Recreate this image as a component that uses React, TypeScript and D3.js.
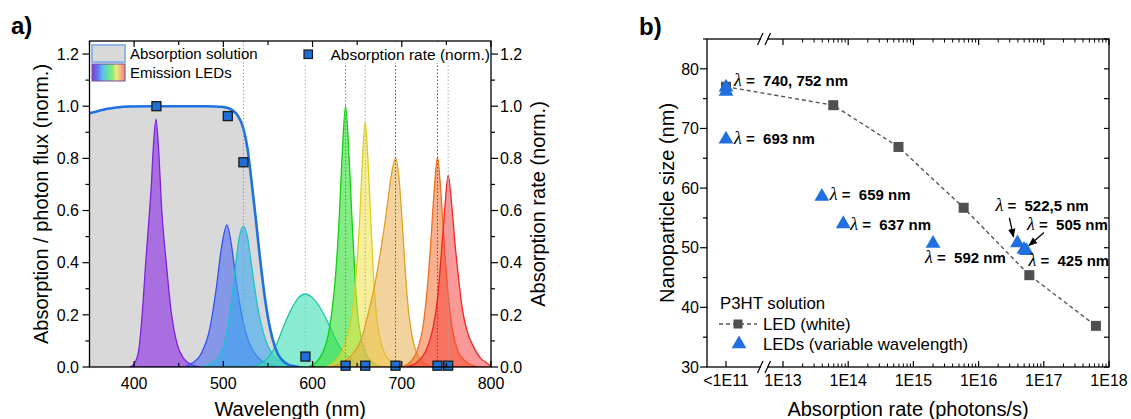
import React from 'react';
import * as d3 from 'd3';

const FONT = "'Liberation Sans', Arial, Helvetica, sans-serif";

// ---------- Panel a data ----------
const absWavelength = [350, 360, 370, 380, 395, 420, 480, 500, 510, 516, 522, 527, 531, 536, 541, 546, 550, 555, 561, 568, 575, 585];
const absValue = [0.973, 0.982, 0.99, 0.995, 0.999, 1.0, 1.0, 0.997, 0.985, 0.965, 0.92, 0.84, 0.73, 0.58, 0.42, 0.28, 0.19, 0.11, 0.05, 0.02, 0.006, 0];

const led425: [number, number][] = [[395, 0], [400, 0.012], [405, 0.06], [409, 0.2], [413, 0.4], [416.5, 0.56], [419, 0.68], [421.5, 0.84], [424.5, 0.95], [427.5, 0.83], [431, 0.6], [436, 0.4], [442, 0.2], [448, 0.09], [455, 0.035], [465, 0.008], [475, 0]];
const led505: [number, number][] = [[455, 0], [465, 0.015], [475, 0.05], [485, 0.15], [492, 0.3], [498, 0.46], [504, 0.545], [509, 0.47], [514, 0.34], [520, 0.21], [528, 0.1], [538, 0.04], [550, 0.012], [568, 0]];
const led522: [number, number][] = [[475, 0], [490, 0.02], [500, 0.075], [507, 0.2], [513, 0.37], [518, 0.5], [522.5, 0.54], [527, 0.5], [532, 0.38], [538, 0.24], [545, 0.13], [555, 0.05], [570, 0.012], [590, 0]];
const led592: [number, number][] = [[530, 0], [540, 0.01], [550, 0.035], [560, 0.09], [568, 0.16], [576, 0.22], [584, 0.265], [592, 0.28], [600, 0.265], [608, 0.23], [616, 0.18], [624, 0.12], [632, 0.07], [640, 0.04], [650, 0.015], [665, 0]];
const led637: [number, number][] = [[595, 0], [605, 0.02], [612, 0.06], [618, 0.13], [622, 0.22], [626, 0.36], [630, 0.58], [633, 0.8], [637, 1.0], [641, 0.8], [644, 0.58], [647, 0.38], [650, 0.22], [654, 0.12], [660, 0.05], [668, 0.015], [680, 0]];
const led659: [number, number][] = [[615, 0], [625, 0.02], [633, 0.06], [640, 0.13], [645, 0.22], [649, 0.36], [653, 0.58], [656, 0.8], [659, 0.94], [662, 0.8], [665, 0.58], [668, 0.37], [671, 0.22], [675, 0.12], [681, 0.05], [690, 0.015], [700, 0]];
const led693: [number, number][] = [[620, 0], [635, 0.02], [645, 0.05], [655, 0.11], [662, 0.2], [670, 0.32], [677, 0.46], [683, 0.6], [688, 0.73], [693, 0.8], [697, 0.72], [700, 0.58], [703, 0.42], [706, 0.27], [710, 0.15], [716, 0.06], [725, 0.015], [735, 0]];
const led740: [number, number][] = [[700, 0], [710, 0.02], [718, 0.07], [724, 0.16], [728, 0.28], [732, 0.45], [736, 0.66], [740, 0.805], [744, 0.66], [748, 0.45], [752, 0.28], [757, 0.14], [763, 0.06], [772, 0.02], [785, 0]];
const led752: [number, number][] = [[705, 0], [718, 0.02], [728, 0.07], [735, 0.15], [740, 0.26], [744, 0.42], [748, 0.6], [752, 0.735], [756, 0.62], [760, 0.46], [764, 0.33], [768, 0.22], [773, 0.14], [780, 0.08], [788, 0.035], [798, 0.008], [800, 0]];
const ledSpectra = [led425, led505, led522, led592, led637, led659, led693, led740, led752];

const rateWavelength = [425, 505, 522.5, 592, 637, 659, 693, 740, 752];
const rateValue = [1.0, 0.962, 0.785, 0.04, 0.005, 0.005, 0.005, 0.005, 0.005];
const guideWavelength = [522.5, 592, 637, 659, 693, 740, 752];

const xTicksA = [400, 500, 600, 700, 800];
const yTicksA = [0, 0.2, 0.4, 0.6, 0.8, 1.0, 1.2];

// ---------- Panel b data ----------
const whiteRate = [1e11, 5.9e13, 5.9e14, 5.9e15, 6e16, 6.3e17];
const whiteSize = [77.0, 73.9, 66.9, 56.7, 45.4, 36.9];

const ledLabels = ['740', '752', '693', '659', '637', '592', '522,5', '505', '425'];
const ledRate = [1e11, 1e11, 1e11, 3.94e13, 8.4e13, 2.0e15, 3.94e16, 4.97e16, 5.42e16];
const ledSize = [76.9, 76.2, 68.2, 58.6, 54.0, 50.7, 50.8, 49.7, 49.5];

const xTickValuesB = [1e11, 1e13, 1e14, 1e15, 1e16, 1e17, 1e18];
const xTickLabelsB = ['<1E11', '1E13', '1E14', '1E15', '1E16', '1E17', '1E18'];
const yTicksB = [30, 40, 50, 60, 70, 80];

// ---------- styles ----------
const ledStroke = ['#7A22E0', '#3352F0', '#1EC3C8', '#22C2AE', '#12CF12', '#DCCD1E', '#E0A024', '#F07022', '#F02626'];
const ledFill = ['#8A2BE2', '#4F6BF2', '#3AA6F0', '#3ADFB0', '#32E032', '#F0E244', '#EAAE4C', '#F27030', '#F83434'];
const ledOpacity = [0.62, 0.6, 0.6, 0.6, 0.6, 0.55, 0.55, 0.55, 0.5];
const guideColor = ['#9a9a9a', '#b5b5b5', '#7a7a7a', '#aaaaaa', '#555555', '#555555', '#aaaaaa'];

// label layout for panel b: [dx, dy] relative to marker
const labelOffset: ([number, number] | null)[] = [[8, -1], null, [8, 5], [8, 4], [7, 6], [-8, 19], [-22, -32], [3, -20], [2, 15]];
const labelText = ['740, 752', '', '693', '659', '637', '592', '522,5', '505', '425'];

// ---------- scales ----------
const xA = d3.scaleLinear().domain([350, 800]).range([89.5, 491]);
const yA = d3.scaleLinear().domain([0, 1.25]).range([367, 41]);

const yB = d3.scaleLinear().domain([30, 85]).range([367, 39]);
const xBHigh = d3.scaleLog().domain([1e13, 1e18]).range([783, 1109]);
const xBLow = d3.scaleLog().domain([1e10, 1e12]).range([707, 745]);
const xB = (v: number) => (v < 1e12 ? xBLow(v) : xBHigh(v));

export default function App() {
  const area = d3.area<[number, number]>().x(d => xA(d[0])).y0(yA(0)).y1(d => yA(d[1])).curve(d3.curveMonotoneX);
  const line = d3.line<[number, number]>().x(d => xA(d[0])).y(d => yA(d[1])).curve(d3.curveMonotoneX);
  const absPts: [number, number][] = absWavelength.map((w, i) => [w, absValue[i]]);

  const aL = 89.5, aR = 491, aT = 41, aB = 367;
  const bL = 707, bR = 1109, bT = 39, bB = 367;

  const minorXA = d3.range(350, 801, 50);
  const minorYA = d3.range(0, 13).map(i => i / 10);
  const minorXB: number[] = [];
  for (let d = 13; d < 18; d++) for (let m = 2; m <= 9; m++) minorXB.push(m * Math.pow(10, d));
  const majorXBHigh = [1e13, 1e14, 1e15, 1e16, 1e17, 1e18];
  const minorYB = d3.range(30, 86, 5);

  const tri = d3.symbol().type(d3.symbolTriangle).size(95)();
  const whiteLine = d3.line<number>().x((d, i) => xB(whiteRate[i])).y(d => yB(d));

  const breakX = 764;

  return (
    <svg width={1131} height={419} style={{ position: 'absolute', left: 0, top: 0, fontFamily: FONT }}>
      <defs>
        <linearGradient id="rainbow" x1="0" x2="1" y1="0" y2="0">
          <stop offset="0" stopColor="#7B3FD8" />
          <stop offset="0.16" stopColor="#6A70F0" />
          <stop offset="0.32" stopColor="#5EBCEE" />
          <stop offset="0.48" stopColor="#62E0A6" />
          <stop offset="0.62" stopColor="#8CEA72" />
          <stop offset="0.74" stopColor="#F0E888" />
          <stop offset="0.88" stopColor="#F2B47A" />
          <stop offset="1" stopColor="#F08282" />
        </linearGradient>
        <marker id="arrow" viewBox="0 0 10 10" refX="9" refY="5" markerWidth="7" markerHeight="7" orient="auto-start-reverse">
          <path d="M0,1 L10,5 L0,9 z" fill="#000" />
        </marker>
        <clipPath id="clipA"><rect x={aL} y={aT} width={aR - aL} height={aB - aT} /></clipPath>
      </defs>
      <rect x={0} y={0} width={1131} height={419} fill="#fff" />

      {/* ================= Panel a ================= */}
      <text x={11} y={34} fontSize={24} fontWeight="bold">a)</text>
      <g clipPath="url(#clipA)">
        <path d={area(absPts) || ''} fill="#D9D9D9" />
        {ledSpectra.map((s, i) => (
          <path key={i} d={area(s) || ''} fill={ledFill[i]} fillOpacity={ledOpacity[i]} stroke={ledStroke[i]} strokeWidth={1.3} />
        ))}
        <path d={line(absPts) || ''} fill="none" stroke="#1E72E0" strokeWidth={2.6} />
        {guideWavelength.map((w, i) => (
          <line key={i} x1={xA(w)} x2={xA(w)} y1={aT} y2={aB} stroke={guideColor[i]} strokeWidth={1} strokeDasharray="1.5,2" />
        ))}
      </g>
      {/* right legend (white box hides guide lines) */}
      <rect x={298} y={42} width={191} height={21} fill="#fff" />
      <rect x={304} y={50} width={8.5} height={8.5} fill="#1F6FD6" stroke="#1a1a1a" strokeWidth={1.2} />
      <text x={330.5} y={59.5} fontSize={15.5}>Absorption rate (norm.)</text>
      {/* left legend */}
      <rect x={92} y={45} width={33} height={17} fill="#D9D9D9" stroke="#8DB8EC" strokeWidth={2} />
      <rect x={92} y={64} width={33} height={17} fill="url(#rainbow)" stroke="#7a4a9a" strokeWidth={1} />
      <text x={130} y={58.5} fontSize={15}>Absorption solution</text>
      <text x={130} y={77.5} fontSize={15}>Emission LEDs</text>

      {/* absorption rate squares */}
      {rateWavelength.map((w, i) => (
        <rect key={i} x={xA(w) - 4.5} y={yA(rateValue[i]) - 4.5} width={9} height={9} fill="#1F6FD6" stroke="#1a1a1a" strokeWidth={1.3} />
      ))}

      {/* frame */}
      <rect x={aL} y={aT} width={aR - aL} height={aB - aT} fill="none" stroke="#000" strokeWidth={1.3} />
      {/* bottom/top ticks */}
      {minorXA.map(v => {
        const major = v % 100 === 0;
        const len = major ? 6 : 4;
        return (
          <g key={v}>
            <line x1={xA(v)} x2={xA(v)} y1={aB} y2={aB - len} stroke="#000" strokeWidth={1.2} />
            <line x1={xA(v)} x2={xA(v)} y1={aT} y2={aT + len} stroke="#000" strokeWidth={1.2} />
          </g>
        );
      })}
      {xTicksA.map(v => (
        <text key={v} x={xA(v)} y={389} fontSize={16} textAnchor="middle">{v}</text>
      ))}
      {/* left/right ticks */}
      {minorYA.map(v => {
        const major = Math.round(v * 10) % 2 === 0;
        const len = major ? 7 : 4;
        return (
          <g key={v}>
            <line x1={aL} x2={aL - len} y1={yA(v)} y2={yA(v)} stroke="#000" strokeWidth={1.2} />
            <line x1={aR} x2={aR + len} y1={yA(v)} y2={yA(v)} stroke="#000" strokeWidth={1.2} />
          </g>
        );
      })}
      {yTicksA.map(v => (
        <g key={v}>
          <text x={79} y={yA(v)} dy="0.36em" fontSize={16} textAnchor="end">{v.toFixed(1)}</text>
          <text x={500} y={yA(v)} dy="0.36em" fontSize={16} textAnchor="start">{v.toFixed(1)}</text>
        </g>
      ))}
      <text x={(aL + aR) / 2} y={416} fontSize={20} textAnchor="middle">Wavelength (nm)</text>
      <text transform={`translate(48,${(aT + aB) / 2}) rotate(-90)`} fontSize={20} textAnchor="middle">Absorption / photon flux (norm.)</text>
      <text transform={`translate(545,${(aT + aB) / 2}) rotate(-90)`} fontSize={20} textAnchor="middle">Absorption rate (norm.)</text>

      {/* ================= Panel b ================= */}
      <text x={639} y={35} fontSize={24} fontWeight="bold">b)</text>

      <path d={whiteLine(whiteSize) || ''} fill="none" stroke="#555" strokeWidth={1.4} strokeDasharray="4,3" />
      {whiteRate.map((r, i) => (
        <rect key={i} x={xB(r) - 5} y={yB(whiteSize[i]) - 5} width={10} height={10} fill="#4F4F4F" />
      ))}
      {ledRate.map((r, i) => (
        <path key={i} d={tri || ''} transform={`translate(${xB(r)},${yB(ledSize[i])})`} fill="#1F6FE0" />
      ))}
      {ledRate.map((r, i) => {
        const off = labelOffset[i];
        if (!off) return null;
        return (
          <text key={i} x={xB(r) + off[0]} y={yB(ledSize[i]) + off[1]} fontSize={15} fontWeight="bold" xmlSpace="preserve">
            <tspan fontFamily="'Liberation Serif', 'DejaVu Serif', serif" fontStyle="italic" fontWeight="normal" fontSize={18}>λ</tspan>
            {'\u00A0=\u00A0\u00A0' + labelText[i] + ' nm'}
          </text>
        );
      })}
      {/* arrows for 522,5 and 505 */}
      <line x1={xB(ledRate[6]) - 8} y1={yB(ledSize[6]) - 25} x2={xB(ledRate[6]) - 4} y2={yB(ledSize[6]) - 6} stroke="#000" strokeWidth={1.3} markerEnd="url(#arrow)" />
      <line x1={xB(ledRate[7]) + 20} y1={yB(ledSize[7]) - 17} x2={xB(ledRate[7]) + 5} y2={yB(ledSize[7]) - 4} stroke="#000" strokeWidth={1.3} markerEnd="url(#arrow)" />

      {/* legend b */}
      <text x={720} y={308.5} fontSize={16.8}>P3HT solution</text>
      <line x1={719} x2={757} y1={324} y2={324} stroke="#555" strokeWidth={1.4} strokeDasharray="4,3" />
      <rect x={733.5} y={319.5} width={9} height={9} fill="#4F4F4F" />
      <text x={763} y={329.5} fontSize={16.8}>LED (white)</text>
      <path d={tri || ''} transform="translate(739,344)" fill="#1F6FE0" />
      <text x={763} y={350} fontSize={16.8}>LEDs (variable wavelength)</text>

      {/* frame b */}
      <rect x={bL} y={bT} width={bR - bL} height={bB - bT} fill="none" stroke="#000" strokeWidth={1.3} />
      {/* x ticks */}
      {minorXB.map((v, i) => (
        <g key={i}>
          <line x1={xBHigh(v)} x2={xBHigh(v)} y1={bB} y2={bB - 3.5} stroke="#000" strokeWidth={1} />
          <line x1={xBHigh(v)} x2={xBHigh(v)} y1={bT} y2={bT + 3.5} stroke="#000" strokeWidth={1} />
        </g>
      ))}
      {majorXBHigh.map((v, i) => (
        <g key={i}>
          <line x1={xBHigh(v)} x2={xBHigh(v)} y1={bB} y2={bB - 6} stroke="#000" strokeWidth={1.2} />
          <line x1={xBHigh(v)} x2={xBHigh(v)} y1={bT} y2={bT + 6} stroke="#000" strokeWidth={1.2} />
        </g>
      ))}
      <line x1={xB(1e11)} x2={xB(1e11)} y1={bB} y2={bB - 6} stroke="#000" strokeWidth={1.2} />
      {xTickValuesB.map((v, i) => (
        <text key={i} x={xB(v)} y={386} fontSize={16} textAnchor="middle">{xTickLabelsB[i]}</text>
      ))}
      {/* axis breaks */}
      {[bB, bT].map((y, i) => (
        <g key={i}>
          <rect x={breakX - 3} y={y - 2} width={6} height={4} fill="#fff" />
          <line x1={breakX - 6.5} y1={y + 6} x2={breakX - 1} y2={y - 6} stroke="#000" strokeWidth={1.2} />
          <line x1={breakX + 1} y1={y + 6} x2={breakX + 6.5} y2={y - 6} stroke="#000" strokeWidth={1.2} />
        </g>
      ))}
      {/* y ticks */}
      {minorYB.map(v => {
        const major = v % 10 === 0;
        return (
          <g key={v}>
            <line x1={bL} x2={bL - (major ? 7 : 4)} y1={yB(v)} y2={yB(v)} stroke="#000" strokeWidth={1.2} />
            <line x1={bR} x2={bR - 5} y1={yB(v)} y2={yB(v)} stroke="#000" strokeWidth={1.2} />
          </g>
        );
      })}
      {yTicksB.map(v => (
        <text key={v} x={699} y={yB(v)} dy="0.36em" fontSize={16} textAnchor="end">{v}</text>
      ))}
      <text x={(bL + bR) / 2} y={416} fontSize={20} textAnchor="middle">Absorption rate (photons/s)</text>
      <text transform={`translate(674,${(bT + bB) / 2}) rotate(-90)`} fontSize={20} textAnchor="middle">Nanoparticle size (nm)</text>
    </svg>
  );
}
